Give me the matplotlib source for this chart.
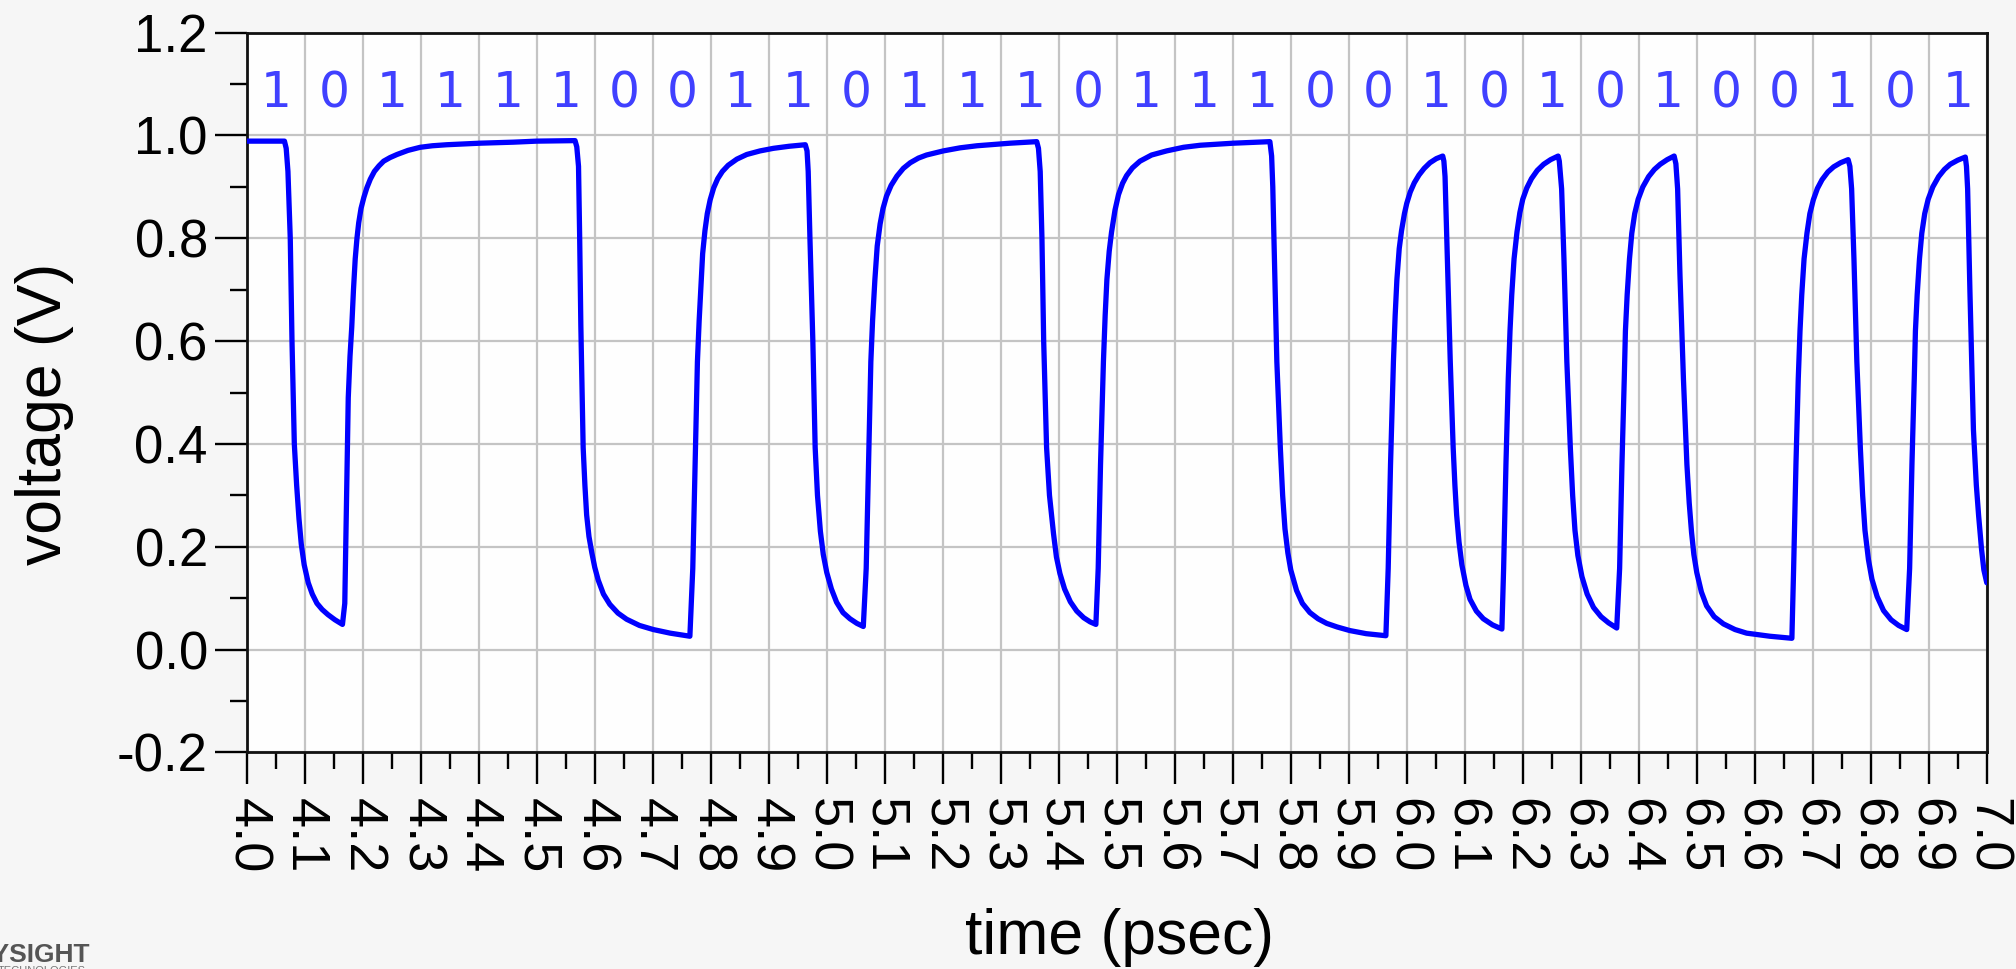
import numpy as np
import matplotlib.pyplot as plt

# bit pattern printed above the eye of each 0.1 ps slot
bits = [1, 0, 1, 1, 1, 1, 0, 0, 1, 1, 0, 1, 1, 1, 0, 1, 1, 1, 0, 0, 1, 0, 1, 0, 1, 0, 0, 1, 0, 1]
bit_centers = [4.05, 4.15, 4.25, 4.35, 4.45, 4.55, 4.65, 4.75, 4.85, 4.95,
               5.05, 5.15, 5.25, 5.35, 5.45, 5.55, 5.65, 5.75, 5.85, 5.95,
               6.05, 6.15, 6.25, 6.35, 6.45, 6.55, 6.65, 6.75, 6.85, 6.95]

# simulated output waveform (time in psec, voltage in V), one row per edge
time_ps = [
    4.000, 4.065,
    4.068, 4.071, 4.075, 4.078, 4.082, 4.086, 4.090, 4.094, 4.099, 4.106, 4.113, 4.121, 4.130, 4.140, 4.152, 4.165,
    4.169, 4.172, 4.175, 4.178, 4.181, 4.184, 4.187, 4.190, 4.193, 4.197, 4.202, 4.207, 4.213, 4.220, 4.228, 4.236,
    4.247, 4.259, 4.278, 4.299, 4.320, 4.345, 4.402, 4.460, 4.500, 4.566,
    4.569, 4.572, 4.574, 4.576, 4.580, 4.583, 4.586, 4.590, 4.595, 4.600, 4.606, 4.615, 4.626, 4.640, 4.655, 4.677,
    4.701, 4.730, 4.764,
    4.769, 4.773, 4.777, 4.780, 4.783, 4.786, 4.790, 4.794, 4.799, 4.805, 4.812, 4.820, 4.830, 4.845, 4.862, 4.885,
    4.908, 4.935, 4.963,
    4.966, 4.968, 4.971, 4.976, 4.980, 4.984, 4.989, 4.994, 5.000, 5.008, 5.017, 5.028, 5.040, 5.052, 5.063,
    5.068, 5.072, 5.076, 5.079, 5.083, 5.087, 5.092, 5.097, 5.103, 5.111, 5.121, 5.132, 5.144, 5.158, 5.172, 5.201,
    5.230, 5.259, 5.316, 5.362,
    5.365, 5.368, 5.371, 5.374, 5.379, 5.384, 5.391, 5.396, 5.402, 5.410, 5.420, 5.431, 5.443, 5.454, 5.464,
    5.468, 5.472, 5.477, 5.480, 5.483, 5.487, 5.491, 5.497, 5.503, 5.510, 5.517, 5.527, 5.540, 5.560, 5.586, 5.615,
    5.644, 5.701, 5.764,
    5.767, 5.769, 5.771, 5.776, 5.782, 5.786, 5.790, 5.795, 5.800, 5.810, 5.820, 5.833, 5.847, 5.862, 5.880, 5.902,
    5.930, 5.964,
    5.968, 5.972, 5.977, 5.980, 5.983, 5.987, 5.991, 5.996, 6.000, 6.006, 6.013, 6.021, 6.030, 6.040, 6.051, 6.062,
    6.064, 6.066, 6.070, 6.075, 6.080, 6.083, 6.086, 6.090, 6.095, 6.102, 6.109, 6.120, 6.132, 6.148, 6.164,
    6.167, 6.171, 6.175, 6.178, 6.181, 6.185, 6.190, 6.195, 6.200, 6.207, 6.215, 6.225, 6.236, 6.248, 6.261,
    6.263, 6.267, 6.271, 6.276, 6.282, 6.286, 6.290, 6.295, 6.302, 6.311, 6.322, 6.335, 6.348, 6.362,
    6.367, 6.371, 6.375, 6.377, 6.380, 6.384, 6.388, 6.393, 6.399, 6.407, 6.417, 6.427, 6.437, 6.449, 6.461,
    6.464, 6.467, 6.471, 6.477, 6.483, 6.487, 6.491, 6.495, 6.500, 6.508, 6.517, 6.530, 6.546, 6.566, 6.586, 6.626,
    6.664,
    6.667, 6.671, 6.675, 6.678, 6.681, 6.685, 6.690, 6.695, 6.701, 6.708, 6.716, 6.726, 6.736, 6.748, 6.761,
    6.764, 6.767, 6.771, 6.776, 6.782, 6.786, 6.790, 6.796, 6.802, 6.811, 6.822, 6.835, 6.848, 6.862,
    6.867, 6.871, 6.875, 6.877, 6.880, 6.884, 6.888, 6.893, 6.899, 6.907, 6.917, 6.927, 6.937, 6.950, 6.963,
    6.965, 6.967, 6.971, 6.977, 6.982, 6.986, 6.991, 6.995, 7.000,
]
voltage = [
    0.989, 0.989,
    0.975, 0.930, 0.800, 0.600, 0.400, 0.320, 0.255, 0.205, 0.165, 0.130, 0.108, 0.090, 0.078, 0.068, 0.058, 0.049,
    0.090, 0.290, 0.490, 0.570, 0.627, 0.700, 0.760, 0.800, 0.830, 0.858, 0.880, 0.898, 0.915, 0.930, 0.941, 0.950,
    0.957, 0.963, 0.971, 0.977, 0.980, 0.982, 0.985, 0.987, 0.989, 0.990,
    0.978, 0.940, 0.800, 0.630, 0.393, 0.320, 0.262, 0.220, 0.188, 0.160, 0.135, 0.108, 0.088, 0.071, 0.059, 0.047,
    0.039, 0.032, 0.026,
    0.158, 0.360, 0.560, 0.640, 0.705, 0.770, 0.815, 0.848, 0.875, 0.898, 0.916, 0.930, 0.942, 0.954, 0.963, 0.970,
    0.975, 0.979, 0.982,
    0.970, 0.930, 0.800, 0.600, 0.393, 0.300, 0.230, 0.185, 0.150, 0.118, 0.092, 0.072, 0.060, 0.051, 0.045,
    0.158, 0.360, 0.560, 0.640, 0.720, 0.785, 0.828, 0.858, 0.882, 0.903, 0.921, 0.936, 0.947, 0.956, 0.962, 0.970,
    0.976, 0.980, 0.985, 0.988,
    0.975, 0.930, 0.800, 0.600, 0.393, 0.300, 0.225, 0.180, 0.148, 0.118, 0.093, 0.075, 0.062, 0.054, 0.049,
    0.158, 0.360, 0.560, 0.650, 0.720, 0.775, 0.812, 0.855, 0.885, 0.907, 0.922, 0.937, 0.950, 0.962, 0.970, 0.977,
    0.981, 0.985, 0.988,
    0.960, 0.900, 0.800, 0.560, 0.393, 0.300, 0.235, 0.188, 0.155, 0.115, 0.090, 0.072, 0.060, 0.051, 0.044, 0.037,
    0.031, 0.027,
    0.158, 0.360, 0.560, 0.650, 0.720, 0.780, 0.815, 0.848, 0.868, 0.890, 0.908, 0.923, 0.936, 0.947, 0.955, 0.960,
    0.950, 0.920, 0.760, 0.560, 0.393, 0.320, 0.262, 0.210, 0.165, 0.125, 0.098, 0.075, 0.060, 0.048, 0.040,
    0.158, 0.360, 0.527, 0.620, 0.690, 0.760, 0.812, 0.850, 0.876, 0.898, 0.916, 0.932, 0.944, 0.953, 0.960,
    0.950, 0.896, 0.760, 0.560, 0.393, 0.300, 0.232, 0.183, 0.142, 0.108, 0.082, 0.064, 0.052, 0.042,
    0.158, 0.360, 0.527, 0.620, 0.690, 0.760, 0.810, 0.848, 0.876, 0.900, 0.920, 0.934, 0.944, 0.953, 0.960,
    0.945, 0.896, 0.730, 0.527, 0.360, 0.285, 0.228, 0.185, 0.150, 0.112, 0.085, 0.064, 0.050, 0.039, 0.032, 0.026,
    0.022,
    0.158, 0.360, 0.527, 0.620, 0.690, 0.760, 0.810, 0.848, 0.875, 0.897, 0.914, 0.929, 0.939, 0.947, 0.953,
    0.940, 0.896, 0.760, 0.560, 0.393, 0.300, 0.232, 0.175, 0.137, 0.103, 0.076, 0.058, 0.047, 0.039,
    0.158, 0.360, 0.527, 0.620, 0.690, 0.760, 0.810, 0.848, 0.876, 0.900, 0.920, 0.934, 0.944, 0.952, 0.958,
    0.940, 0.896, 0.695, 0.428, 0.320, 0.260, 0.195, 0.155, 0.130,
]

x_ticks = [4.0, 4.1, 4.2, 4.3, 4.4, 4.5, 4.6, 4.7, 4.8, 4.9,
           5.0, 5.1, 5.2, 5.3, 5.4, 5.5, 5.6, 5.7, 5.8, 5.9,
           6.0, 6.1, 6.2, 6.3, 6.4, 6.5, 6.6, 6.7, 6.8, 6.9, 7.0]
x_tick_labels = ["%.1f" % t for t in x_ticks]
y_ticks = [-0.2, 0.0, 0.2, 0.4, 0.6, 0.8, 1.0, 1.2]
y_tick_labels = ["-0.2", "0.0", "0.2", "0.4", "0.6", "0.8", "1.0", "1.2"]

plt.rcParams['font.family'] = ['Liberation Sans', 'DejaVu Sans']

fig = plt.figure(figsize=(20.16, 9.69), dpi=100, facecolor='#f6f6f6')
ax = fig.add_axes([0.1224, 0.2235, 0.8631, 0.7428])
ax.set_facecolor('#fefefe')

ax.plot(time_ps, voltage, color='#0000ff', linewidth=3.8, solid_joinstyle='round',
        solid_capstyle='round', zorder=3)

for xc, b in zip(bit_centers, bits):
    ax.text(xc, 1.055, str(b), color='#4040ff', fontsize=35, ha='center', va='baseline',
            family=['DejaVu Sans'], zorder=4)

ax.set_xlim(4.0, 7.0)
ax.set_ylim(-0.2, 1.2)

ax.set_xticks(x_ticks)
ax.set_xticklabels(x_tick_labels, rotation=-90, ha='center', va='top')
ax.set_xticks(np.arange(4.05, 7.0, 0.1), minor=True)
ax.set_yticks(y_ticks)
ax.set_yticklabels(y_tick_labels)
ax.set_yticks([-0.1, 0.1, 0.3, 0.5, 0.7, 0.9, 1.1], minor=True)

ax.tick_params(which='major', direction='out', length=23, width=1.7, color='black',
               labelsize=38, pad=5)
ax.tick_params(axis='x', which='major', labelsize=39, pad=10)
ax.tick_params(which='minor', direction='out', length=12, width=1.7, color='black')

ax.grid(which='major', color='#c4c4c4', linewidth=1.6)
ax.set_axisbelow(True)
for side in ['left', 'bottom', 'right', 'top']:
    ax.spines[side].set_linewidth(2.0)
    ax.spines[side].set_color('#111111')

fig.text(0.5553, 0.0155, "time (psec)", fontsize=45, ha='center', va='baseline')
fig.text(0.0223, 0.573, "voltage (V)", fontsize=45, rotation=90, ha='center', va='center')

# vendor logo in the lower-left corner, partly off the canvas
fig.text(90 / 2016, 1 - 962 / 969, "KEYSIGHT", fontsize=19, weight='bold', color='#555555',
         ha='right', va='baseline')
fig.text(86 / 2016, 1 - 966 / 969, "TECHNOLOGIES", fontsize=8, color='#777777',
         ha='right', va='top')

fig.savefig("out.png", dpi=100, facecolor=fig.get_facecolor())
